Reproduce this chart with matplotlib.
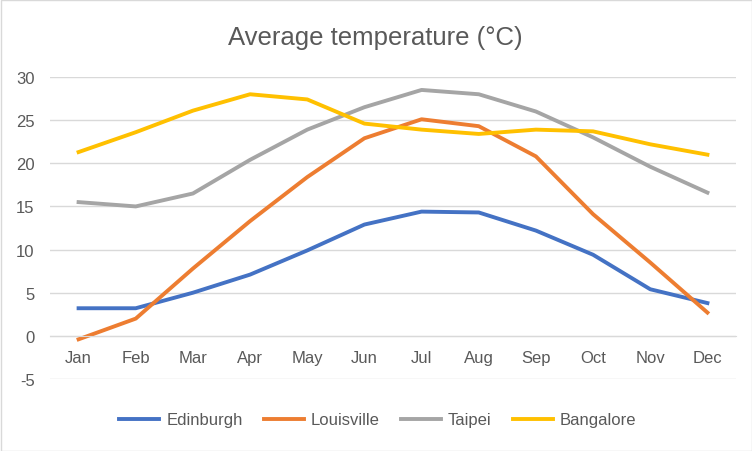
import numpy as np
import matplotlib.pyplot as plt
from matplotlib.patches import Rectangle

months = ["Jan", "Feb", "Mar", "Apr", "May", "Jun",
          "Jul", "Aug", "Sep", "Oct", "Nov", "Dec"]
edinburgh = [3.2, 3.2, 5.0, 7.1, 9.9, 12.9, 14.4, 14.3, 12.2, 9.4, 5.4, 3.8]
louisville = [-0.4, 2.0, 7.8, 13.3, 18.4, 22.9, 25.1, 24.3, 20.8, 14.1, 8.5, 2.7]
taipei = [15.5, 15.0, 16.5, 20.4, 23.9, 26.5, 28.5, 28.0, 26.0, 23.0, 19.6, 16.6]
bangalore = [21.3, 23.6, 26.1, 28.0, 27.4, 24.6, 23.9, 23.4, 23.9, 23.7, 22.2, 21.0]

plt.rcParams['font.family'] = ['Liberation Sans', 'DejaVu Sans']
plt.rcParams['axes.unicode_minus'] = False
grey = "#595959"

fig = plt.figure(figsize=(7.52, 4.52), dpi=100)
ax = fig.add_axes([50 / 752, 1 - 380 / 452, 686 / 752, 302 / 452])

x = np.arange(len(months))
ax.plot(x, edinburgh, color="#4472C4", lw=2.8, label="Edinburgh")
ax.plot(x, louisville, color="#ED7D31", lw=2.8, label="Louisville")
ax.plot(x, taipei, color="#A5A5A5", lw=2.8, label="Taipei")
ax.plot(x, bangalore, color="#FFC000", lw=2.8, label="Bangalore")

ax.set_xlim(-0.5, 11.5)
ax.set_ylim(-5, 30)
ax.set_yticks(range(-5, 31, 5))
ax.set_xticks(x)
ax.set_xticklabels(months)
ax.grid(axis="y", color="#D9D9D9", lw=1)
ax.set_axisbelow(True)
for s in ["top", "right", "left"]:
    ax.spines[s].set_visible(False)
ax.spines["bottom"].set_position(("data", 0))
ax.spines["bottom"].set_color("#D9D9D9")
ax.tick_params(axis="x", length=0, pad=10, labelsize=12, labelcolor=grey)
ax.tick_params(axis="y", length=0, pad=11, labelsize=12, labelcolor=grey)

fig.text(375 / 752, 1 - 38 / 452, "Average temperature (°C)", ha="center",
         va="center", fontsize=18.5, color=grey)

fig.legend(loc="center", bbox_to_anchor=(378 / 752, 1 - 421 / 452), ncol=4,
           frameon=False, fontsize=12, labelcolor=grey, handlelength=2.4,
           handletextpad=0.4, columnspacing=1.3)

fig.patches.append(Rectangle((0.5 / 752, 0.5 / 452), 1 - 1 / 752, 1 - 1 / 452,
                             transform=fig.transFigure, fill=False,
                             edgecolor="#D9D9D9", lw=1))

fig.savefig("out.png", dpi=100)
